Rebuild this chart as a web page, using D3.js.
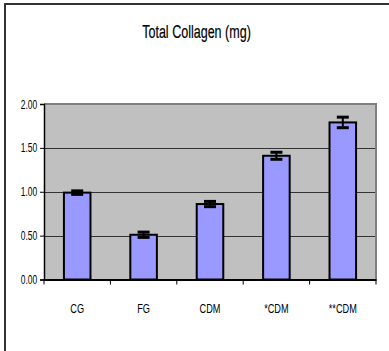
<!DOCTYPE html>
<html><head><meta charset="utf-8">
<script src="https://cdn.jsdelivr.net/npm/d3@7"></script>
<style>
body{margin:0;background:#fff;}
text{font-family:"Liberation Sans",Arial,sans-serif;fill:#000;}
</style></head>
<body>
<svg id="c" width="389" height="351"></svg>
<script>
const categories = ["CG","FG","CDM","*CDM","**CDM"];
const values = [0.99, 0.51, 0.86, 1.41, 1.79];
const errors = [0.02, 0.03, 0.03, 0.04, 0.06];
const yTicks = [0, 0.5, 1.0, 1.5, 2.0];
const title = "Total Collagen (mg)";

const svg = d3.select("#c");
const L = 44, R = 376, T = 104, B = 279.5;

// outer frame (top & left)
svg.append("line").attr("x1",5).attr("x2",389).attr("y1",4).attr("y2",4).attr("stroke","#333").attr("stroke-width",2);
svg.append("line").attr("x1",5).attr("x2",5).attr("y1",3).attr("y2",351).attr("stroke","#333").attr("stroke-width",2);

svg.append("text").attr("transform","translate(196.5,37.7) scale(0.66,1)")
  .attr("text-anchor","middle").attr("font-size",19).attr("stroke","#000").attr("stroke-width",0.2).text(title);

const x = d3.scaleBand().domain(categories).range([L,R]).paddingInner(0.6).paddingOuter(0.3);
const xb = d3.scaleBand().domain(categories).range([L,R]);
const y = d3.scaleLinear().domain([0,2]).range([B,T]);

svg.append("rect").attr("x",L).attr("y",T).attr("width",R-L).attr("height",B-T).attr("fill","#c0c0c0");
svg.append("path").attr("d",`M${L},${T}H${R}V${B}`).attr("fill","none").attr("stroke","#808080").attr("stroke-width",2);

// gridlines
svg.append("g").selectAll("line").data(yTicks.filter(d=>d>0&&d<2)).join("line")
  .attr("x1",L).attr("x2",R-1).attr("y1",d=>Math.round(y(d))+0.5).attr("y2",d=>Math.round(y(d))+0.5)
  .attr("stroke","#333").attr("stroke-width",1);

// bars
svg.append("g").selectAll("rect").data(values).join("rect")
  .attr("x",(d,i)=>x(categories[i])).attr("width",x.bandwidth())
  .attr("y",d=>y(d)).attr("height",d=>B-y(d))
  .attr("fill","#9999ff").attr("stroke","#000").attr("stroke-width",2);

// error bars
const eg = svg.append("g");
values.forEach((v,i)=>{
  const cx = x(categories[i]) + x.bandwidth()/2;
  const e = errors[i];
  eg.append("line").attr("x1",cx).attr("x2",cx).attr("y1",y(v+e)).attr("y2",y(v-e)).attr("stroke","#000").attr("stroke-width",2);
  [v+e, v-e].forEach(t=>{
    eg.append("line").attr("x1",cx-6).attr("x2",cx+6).attr("y1",y(t)).attr("y2",y(t)).attr("stroke","#000").attr("stroke-width",3);
  });
});

// y axis
const ya = svg.append("g").attr("transform",`translate(${L},0)`)
  .call(d3.axisLeft(y).tickValues(yTicks).tickFormat(d3.format(".2f")).tickSize(4).tickPadding(3));
ya.select(".domain").attr("stroke","#000").attr("stroke-width",1.5);
ya.selectAll(".tick line").attr("stroke","#000");
ya.selectAll("text").attr("font-size",12.5).attr("x",null).attr("transform","translate(-6.7,0) scale(0.68,1)");

// x axis
const xa = svg.append("g").attr("transform",`translate(0,${B})`)
  .call(d3.axisBottom(xb).tickSize(0).tickPadding(0));
xa.select(".domain").attr("stroke","#000").attr("stroke-width",2);
xa.selectAll("text").attr("font-size",13.5).attr("dy",null).attr("y",null)
  .attr("transform","translate(0,33.8) scale(0.68,1)");
svg.append("g").selectAll("line").data(d3.range(categories.length+1)).join("line")
  .attr("x1",i=>L+i*xb.step()).attr("x2",i=>L+i*xb.step())
  .attr("y1",B).attr("y2",B+5).attr("stroke","#000");
</script>
</body></html>
